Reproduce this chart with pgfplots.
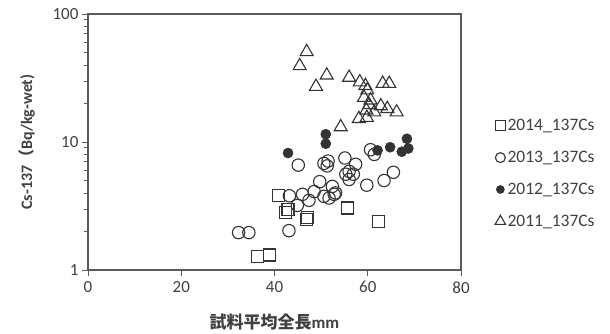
\documentclass[border=0pt]{standalone}
\usepackage{fontspec}
\setmainfont{Carlito}
\newfontfamily\jp{Noto Sans CJK JP}
\usepackage{pgfplots}
\pgfplotsset{compat=1.18}

\definecolor{axisgray}{HTML}{5A5A5A}
\definecolor{labelgray}{HTML}{404040}
\definecolor{markgray}{HTML}{333333}

\begin{document}
\begin{tikzpicture}
\begin{axis}[
  scale only axis, width=373pt, height=256pt,
  ymode=log,
  xmin=0, xmax=80, ymin=1, ymax=100,
  xtick={0,20,40,60,80},
  ytick={1,10,100}, yticklabels={1,10,100},
  minor ytick={2,3,4,5,6,7,8,9,20,30,40,50,60,70,80,90},
  tick align=outside, xtick pos=bottom, ytick pos=left,
  major tick length=6pt, minor tick length=4pt,
  axis line style={draw=axisgray, line width=1.1pt},
  every tick/.style={axisgray, line width=0.9pt},
  every minor tick/.style={axisgray, line width=0.8pt},
  ticklabel style={font=\fontsize{17}{19}\selectfont, text=labelgray},
  xticklabel style={yshift=-2pt},
  /pgf/number format/assume math mode=true,
  ylabel={\textbf{Cs-137{\jp\bfseries （}Bq/kg-wet)}},
  ylabel style={at={(axis description cs:-0.165,0.5)}, anchor=center, font=\fontsize{16}{18}\selectfont, text=labelgray},
  xlabel={{\jp\bfseries 試料平均全長}\textbf{mm}},
  xlabel style={at={(axis description cs:0.5,-0.205)}, anchor=center, font=\fontsize{17}{19}\selectfont, text=labelgray},
  legend style={at={(1.083,0.605)}, anchor=north west, draw=none, fill=none,
    font=\fontsize{17.5}{19}\selectfont, text=labelgray, row sep=15pt,
    /tikz/every even column/.append style={column sep=1pt}},
  legend cell align=left,
  legend image code/.code={\draw[#1, /tikz/every mark/.append style={scale=0.8}] plot coordinates {(0.15cm,0cm)};},
]
\addplot[only marks, mark=square, mark size=6pt, mark options={draw=markgray, line width=1.1pt, fill=none}] coordinates {
  (40.9,3.8) (42.4,2.8) (42.9,2.95) (46.8,2.5) (47.1,2.56)
  (55.6,3.05) (62.4,2.39) (36.4,1.27) (39.0,1.31)
};
\addlegendentry{2014\_137Cs}
\addplot[only marks, mark=o, mark size=6.2pt, mark options={draw=markgray, line width=1.1pt, fill=none}] coordinates {
  (45.1,6.6) (50.6,6.8) (51.5,7.1) (51.3,6.5) (55.1,7.5) (57.4,6.7)
  (60.6,8.7) (61.4,8.0) (56.0,5.9) (56.9,5.6) (56.0,5.1) (55.3,5.6)
  (59.8,4.6) (63.5,5.0) (65.5,5.8) (49.7,4.9) (52.4,4.5) (53.1,4.0)
  (50.6,3.76) (48.5,4.1) (46.0,3.9) (43.2,3.8) (44.9,3.2) (47.4,3.5)
  (51.7,3.65) (52.8,3.9) (43.1,2.03) (32.3,1.96) (34.5,1.96)
};
\addlegendentry{2013\_137Cs}
\addplot[only marks, mark=*, mark size=5pt, mark options={draw=markgray, fill=markgray, line width=0.6pt}] coordinates {
  (51.0,11.5) (51.0,9.7) (42.9,8.2) (62.1,8.6) (64.8,9.1)
  (67.3,8.4) (68.4,10.6) (68.7,8.9)
};
\addlegendentry{2012\_137Cs}
\addplot[only marks, mark=triangle, mark size=7.5pt, mark options={draw=markgray, line width=1.1pt, fill=none}] coordinates {
  (46.9,50.6) (45.4,39.3) (51.2,33.2) (48.9,27.1) (56.0,31.9) (58.3,29.4)
  (59.9,25.4) (59.5,27.5) (63.2,28.6) (64.6,28.6) (59.2,22.2) (60.6,21.2)
  (62.8,19.1) (64.2,18.2) (66.2,17.1) (58.1,15.2) (59.8,15.5) (61.4,17.1)
  (59.7,17.7) (54.2,13.1) (60.3,19.5)
};
\addlegendentry{2011\_137Cs}
\end{axis}
\path ([shift={(-88pt,-63pt)}]current axis.south west) rectangle ([shift={(149pt,14pt)}]current axis.north east);
\end{tikzpicture}
\end{document}
